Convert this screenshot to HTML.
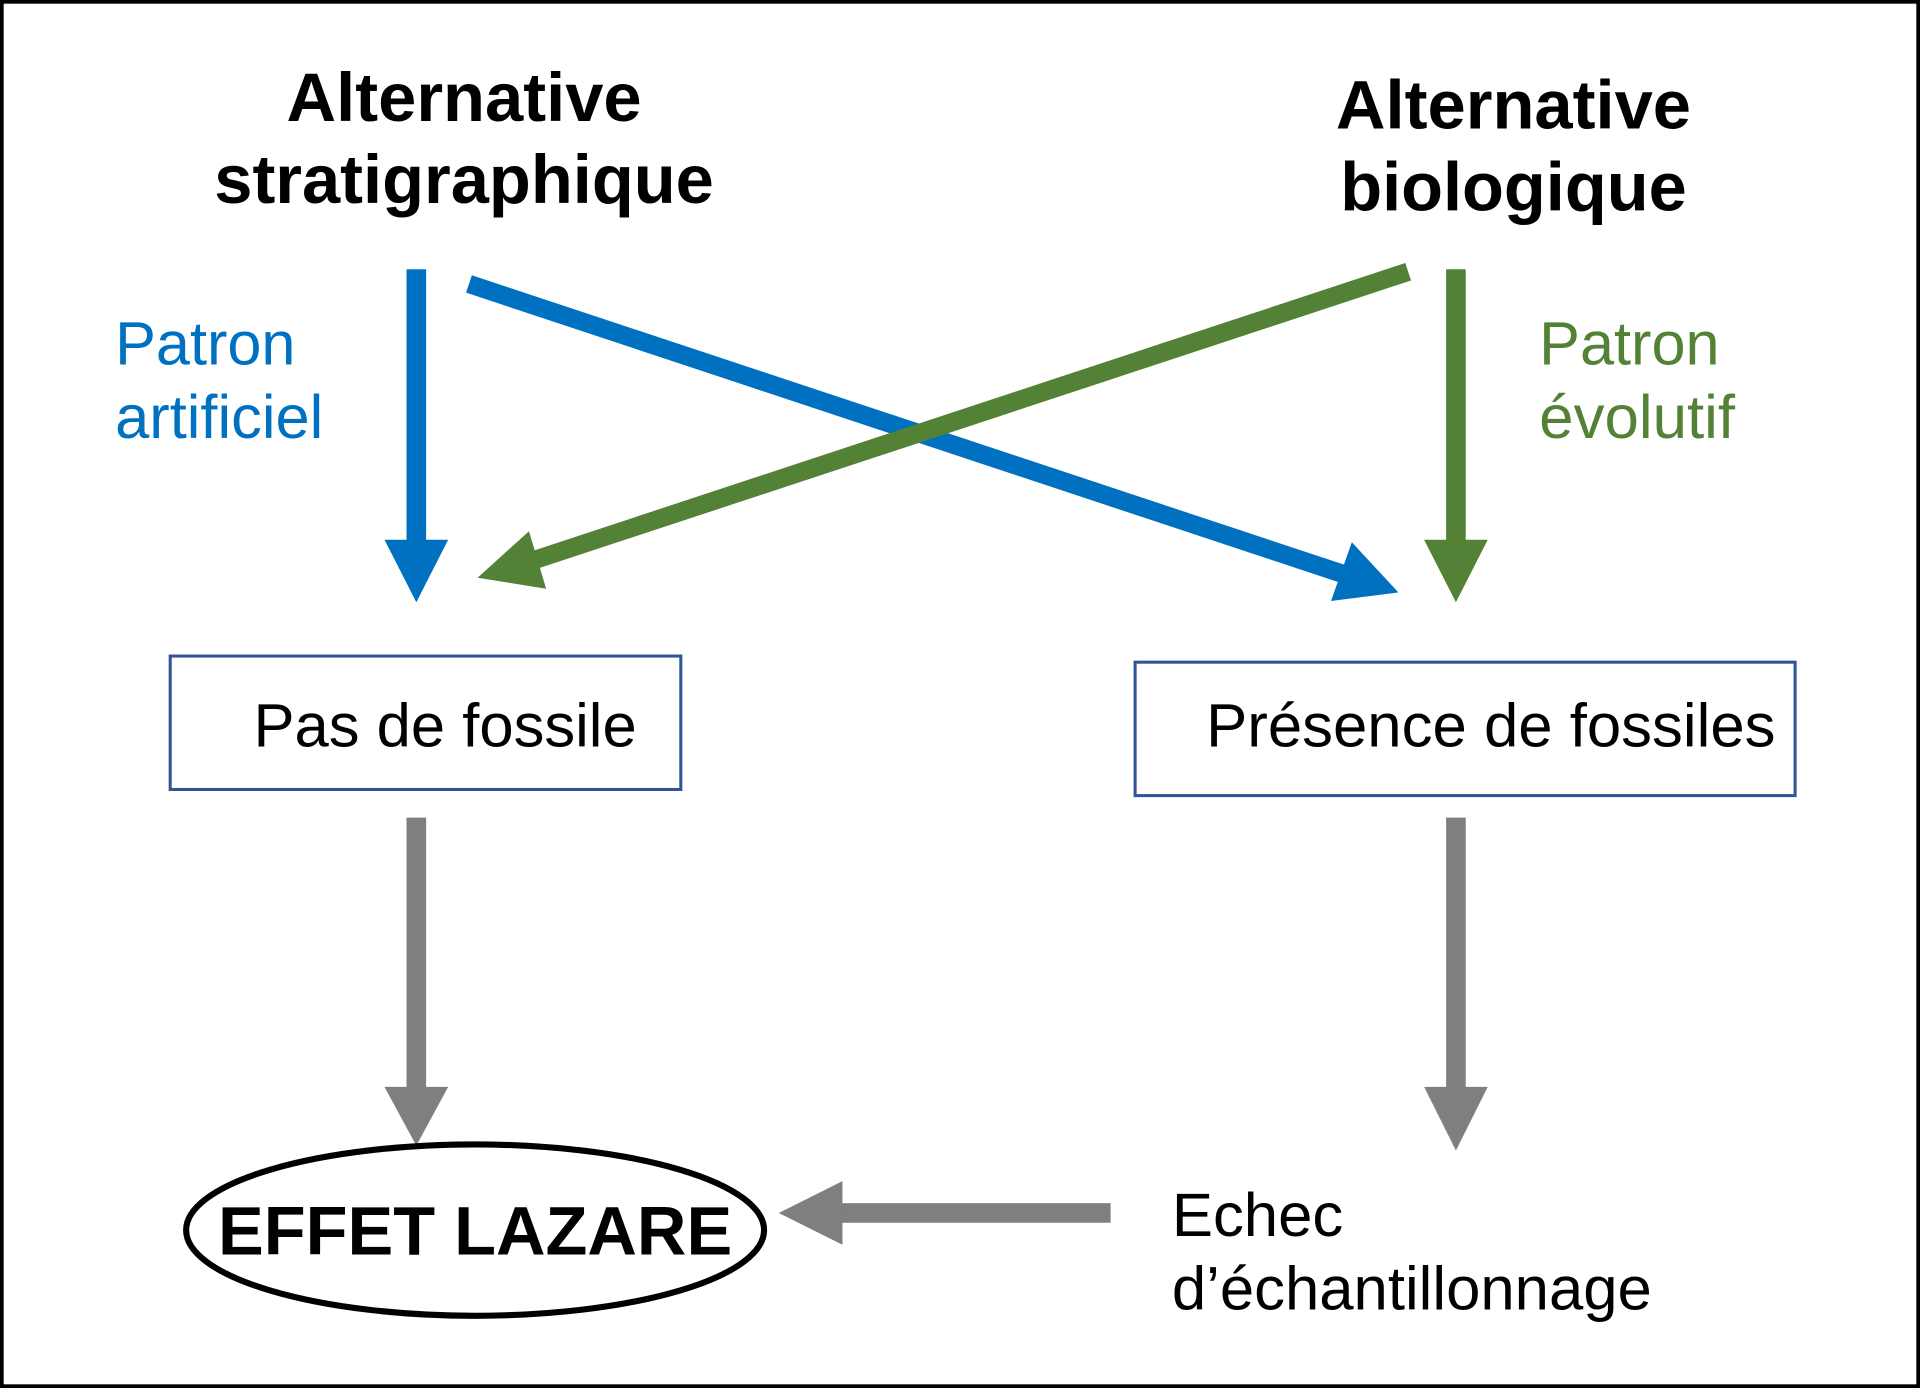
<!DOCTYPE html>
<html><head><meta charset="utf-8"><style>
html,body{margin:0;padding:0;background:#fff}
svg{display:block}
text{font-family:"Liberation Sans",Arial,sans-serif}
</style></head><body>
<svg width="1920" height="1388" viewBox="0 0 1568 1134" preserveAspectRatio="none" xmlns="http://www.w3.org/2000/svg">
<rect x="1.5" y="1.5" width="1565" height="1131" fill="#fff" stroke="#000" stroke-width="3"/>
<g font-weight="bold" font-size="56" text-anchor="middle" fill="#000">
<text x="379" y="99" textLength="290" lengthAdjust="spacingAndGlyphs">Alternative</text>
<text x="379" y="166" textLength="408" lengthAdjust="spacingAndGlyphs">stratigraphique</text>
<text x="1236" y="105" textLength="290" lengthAdjust="spacingAndGlyphs">Alternative</text>
<text x="1236" y="172" textLength="283" lengthAdjust="spacingAndGlyphs">biologique</text>
</g>
<g font-size="50">
<text x="94" y="298" fill="#0070c0">Patron</text>
<text x="94" y="358" fill="#0070c0" textLength="170" lengthAdjust="spacingAndGlyphs">artificiel</text>
<text x="1257" y="298" fill="#538135">Patron</text>
<text x="1257" y="358" fill="#538135" textLength="160" lengthAdjust="spacingAndGlyphs">évolutif</text>
</g>
<rect x="332" y="220" width="16" height="222" fill="#0070c0"/>
<polygon points="314,441 366,441 340,492" fill="#0070c0"/>
<line x1="383" y1="232" x2="1100" y2="470" stroke="#0070c0" stroke-width="15"/>
<polygon points="1142,484 1087,491 1104,443" fill="#0070c0"/>
<line x1="1150" y1="222" x2="432" y2="459" stroke="#538135" stroke-width="15"/>
<polygon points="390,472 432,434 446,481" fill="#538135"/>
<rect x="1181" y="220" width="16" height="222" fill="#538135"/>
<polygon points="1163,441 1215,441 1189,492" fill="#538135"/>
<rect x="139" y="536" width="417" height="109" fill="#fff" stroke="#2f5597" stroke-width="2.5"/>
<rect x="927" y="541" width="539" height="109" fill="#fff" stroke="#2f5597" stroke-width="2.5"/>
<g font-size="50" fill="#000">
<text x="207" y="610" textLength="313" lengthAdjust="spacingAndGlyphs">Pas de fossile</text>
<text x="985" y="610" textLength="465" lengthAdjust="spacingAndGlyphs">Présence de fossiles</text>
</g>
<rect x="332" y="668" width="16" height="221" fill="#7f7f7f"/>
<polygon points="314,888 366,888 340,936" fill="#7f7f7f"/>
<rect x="1181" y="668" width="16" height="221" fill="#7f7f7f"/>
<polygon points="1163,888 1215,888 1189,940" fill="#7f7f7f"/>
<rect x="686" y="983" width="221" height="16" fill="#7f7f7f"/>
<polygon points="688,965 688,1017 636,991" fill="#7f7f7f"/>
<ellipse cx="388" cy="1005" rx="236" ry="70" fill="#fff" stroke="#000" stroke-width="5"/>
<text x="388" y="1025" font-size="56" font-weight="bold" text-anchor="middle">EFFET LAZARE</text>
<g font-size="50" fill="#000">
<text x="957" y="1010" textLength="140" lengthAdjust="spacingAndGlyphs">Echec</text>
<text x="957" y="1070" textLength="392" lengthAdjust="spacingAndGlyphs">d’échantillonnage</text>
</g>
</svg>
</body></html>
